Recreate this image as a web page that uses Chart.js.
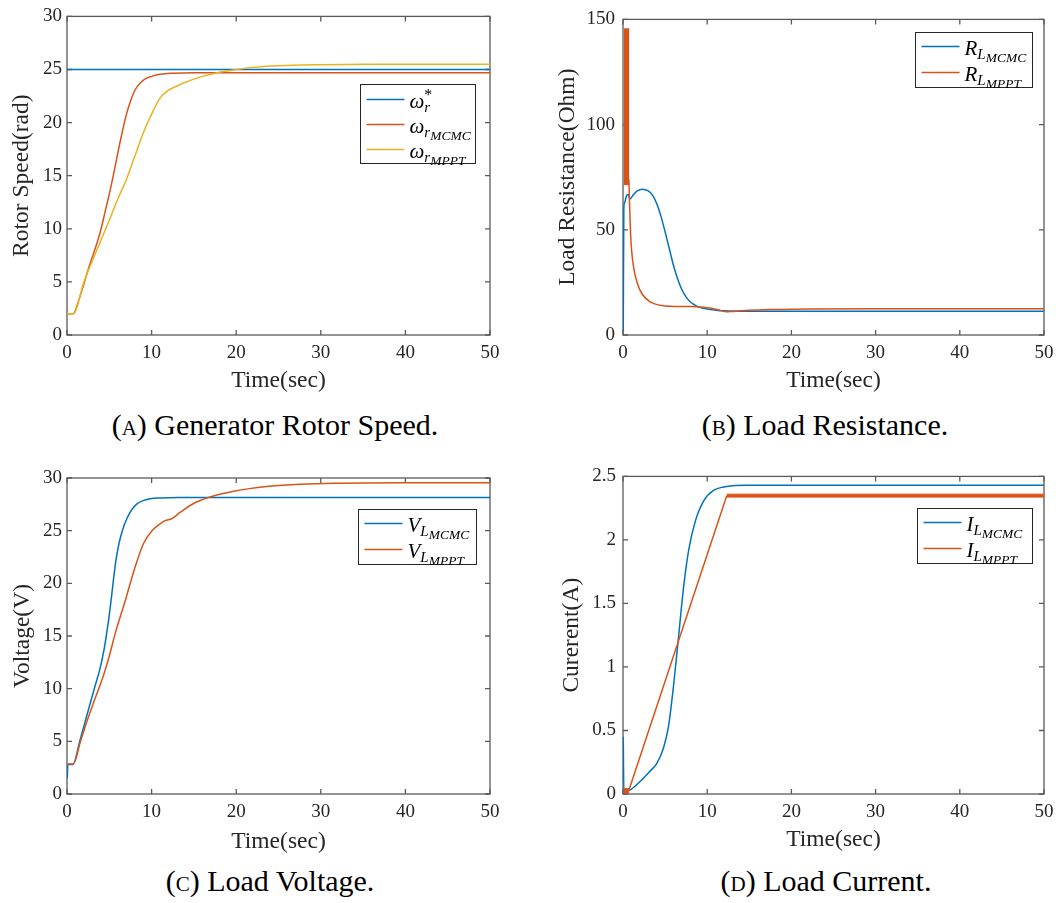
<!DOCTYPE html>
<html>
<head>
<meta charset="utf-8">
<script src="https://cdn.jsdelivr.net/npm/chart.js@4.4.1/dist/chart.umd.min.js"></script>
<style>
  body { margin: 0; background: #fff; }
  #page { position: relative; width: 1064px; height: 903px; }
  .panel { position: absolute; width: 532px; height: 400px; }
  .caption { position: absolute; width: 532px; text-align: center; font-family: "Liberation Serif", serif;
             font-size: 30px; line-height: 34px; color: #000; }
  .sc { font-variant: small-caps; }
</style>
</head>
<body>
<div id="page">
  <div class="panel" style="left:0;top:0"><canvas id="speedChart" width="532" height="400"></canvas></div>
  <div class="panel" style="left:532px;top:0"><canvas id="resistanceChart" width="532" height="400"></canvas></div>
  <div class="panel" style="left:0;top:458px"><canvas id="voltageChart" width="532" height="400"></canvas></div>
  <div class="panel" style="left:532px;top:458px"><canvas id="currentChart" width="532" height="400"></canvas></div>

  <div class="caption" style="left:9px;top:408px">(<span class="sc">a</span>) Generator Rotor Speed.</div>
  <div class="caption" style="left:559px;top:408px">(<span class="sc">b</span>) Load Resistance.</div>
  <div class="caption" style="left:4px;top:864px">(<span class="sc">c</span>) Load Voltage.</div>
  <div class="caption" style="left:560px;top:864px">(<span class="sc">d</span>) Load Current.</div>
</div>

<script>
// ---- tick values ----
const timeTicks = [0, 10, 20, 30, 40, 50];
const speedTicks = [0, 5, 10, 15, 20, 25, 30];
const resistanceTicks = [0, 50, 100, 150];
const voltageTicks = [0, 5, 10, 15, 20, 25, 30];
const currentTicks = [0, 0.5, 1, 1.5, 2, 2.5];

// ---- generator rotor speed (rad) ----
const speedRefT = [0, 50];
const speedRef = [25, 25];
const speedMcmcT = [0, 0.75, 1.4, 2.6, 3.9, 4.5, 5.2, 5.7, 6.1, 6.5, 7.0, 7.5, 8.0, 8.5, 9.2, 10, 11, 12.6, 15, 20, 50];
const speedMcmc = [2, 2, 3.3, 6.4, 9.6, 11.6, 14.0, 15.9, 17.5, 19.0, 20.7, 22.0, 23.0, 23.6, 24.1, 24.35, 24.55, 24.65, 24.7, 24.7, 24.7];
const speedMpptT = [0, 0.75, 2, 3, 4, 5, 6, 7, 8, 9, 10, 11, 12, 13, 14, 16, 18, 20, 22, 25, 30, 35, 40, 50];
const speedMppt = [2, 2, 5.0, 7.0, 8.9, 10.8, 12.8, 14.6, 16.8, 19.0, 20.8, 22.3, 23.05, 23.45, 23.8, 24.35, 24.75, 25.0, 25.2, 25.35, 25.45, 25.5, 25.5, 25.5];

// ---- load resistance (Ohm) ----
const resMcmcT = [0.03, 0.1, 0.2, 0.45, 0.65, 0.8, 1.2, 1.7, 2.3, 3.0, 3.5, 4.0, 4.5, 5.0, 5.5, 6.0, 6.5, 7.0, 7.5, 8.0, 8.5, 9.0, 10, 11, 12, 15, 50];
const resMcmc = [2, 60, 63, 66.5, 66.8, 64.5, 66.5, 68.5, 69.3, 68.5, 66.5, 62.5, 56.5, 49, 41, 33, 26.5, 21.5, 18, 15.7, 14.3, 13.3, 12.3, 11.8, 11.5, 11.3, 11.3];
// switching ripple of the MPPT controller during start-up (envelope)
const resRippleT = [0.08, 0.75];
const resRippleHigh = [145.5, 145.5];
const resRippleLow = [71.5, 71.5];
const resMpptT = [0.7, 0.78, 0.9, 1.05, 1.26, 1.66, 2.25, 3.24, 4.4, 6.0, 8.0, 9.5, 10.5, 11.3, 12.3, 13.0, 14.0, 16, 18, 22, 30, 50];
const resMppt = [74, 62, 48, 39, 32.1, 25.1, 19.6, 15.7, 14.1, 13.6, 13.5, 13.2, 12.7, 12.0, 11.0, 11.2, 11.5, 11.9, 12.1, 12.4, 12.5, 12.5];

// ---- load voltage (V) ----
const voltMcmcT = [0.03, 0.1, 0.7, 1.5, 2.5, 3.3, 3.9, 4.4, 4.75, 5.0, 5.3, 5.7, 6.0, 6.3, 6.8, 7.5, 8.2, 9.0, 10, 11, 13, 50];
const voltMcmc = [1.5, 2.8, 2.8, 5.0, 7.9, 10.2, 11.9, 13.8, 15.6, 17.0, 19.0, 21.7, 23.2, 24.3, 25.6, 26.8, 27.5, 27.85, 28.05, 28.1, 28.15, 28.15];
const voltMpptT = [0, 0.75, 1.6, 2.4, 3.1, 4.33, 5.0, 5.7, 6.9, 8.07, 9.06, 10.04, 11.0, 11.6, 12.4, 13.4, 15, 16.9, 19.7, 23.6, 27.6, 31.5, 40, 50];
const voltMppt = [2.85, 2.85, 5.0, 7.0, 8.6, 11.3, 13.1, 15.25, 18.4, 21.6, 23.8, 25.0, 25.65, 25.95, 26.15, 26.75, 27.6, 28.2, 28.75, 29.2, 29.4, 29.5, 29.55, 29.55];

// ---- load current (A) ----
const currMcmcT = [0.03, 0.1, 0.7, 0.9, 2.05, 3.2, 4.0, 4.8, 5.4, 6.0, 6.6, 7.2, 7.8, 8.6, 9.6, 10.75, 12.3, 14.7, 50];
const currMcmc = [0.45, 0.03, 0.03, 0.035, 0.1, 0.18, 0.24, 0.36, 0.53, 0.85, 1.24, 1.63, 1.92, 2.15, 2.31, 2.39, 2.42, 2.43, 2.43];
const currStartRippleT = [0.08, 0.75];
const currStartRippleHigh = [0.042, 0.042];
const currStartRippleLow = [0.008, 0.008];
const currMpptT = [0.7, 12.33];
const currMppt = [0.03, 2.35];
const currSteadyRippleT = [12.33, 50];
const currSteadyRippleHigh = [2.36, 2.36];
const currSteadyRippleLow = [2.337, 2.337];

const SERIF = '"Liberation Serif", serif';
const BLUE = '#0072BD', RED = '#D95319', GOLD = '#EDB120';
const AXIS_TEXT = '#262626';

function pairs(xs, ys) {
  return xs.map((x, i) => ({ x: x, y: ys[i] }));
}

function series(xs, ys, color, order) {
  return {
    data: pairs(xs, ys), borderColor: color, backgroundColor: color, borderWidth: 1.5,
    pointRadius: 0, cubicInterpolationMode: 'monotone', fill: false, order: order
  };
}

// two edges of a ripple envelope, filled between them
function ripple(xs, high, low, color, order) {
  return [
    { data: pairs(xs, high), borderColor: color, backgroundColor: color, borderWidth: 1, pointRadius: 0, fill: '+1', order: order },
    { data: pairs(xs, low), borderColor: color, backgroundColor: color, borderWidth: 1, pointRadius: 0, fill: false, order: order }
  ];
}

// axes box with inward ticks on all four sides
const matlabBox = {
  id: 'matlabBox',
  beforeDatasetsDraw(chart) {
    const { ctx, chartArea: a, scales } = chart;
    ctx.save();
    ctx.strokeStyle = '#5a5a5a';
    ctx.lineWidth = 1.3;
    ctx.strokeRect(a.left, a.top, a.width, a.height);
    ctx.beginPath();
    scales.x.ticks.forEach(t => {
      const px = scales.x.getPixelForValue(t.value);
      ctx.moveTo(px, a.bottom); ctx.lineTo(px, a.bottom - 5);
      ctx.moveTo(px, a.top); ctx.lineTo(px, a.top + 5);
    });
    scales.y.ticks.forEach(t => {
      const py = scales.y.getPixelForValue(t.value);
      ctx.moveTo(a.left, py); ctx.lineTo(a.left + 5, py);
      ctx.moveTo(a.right, py); ctx.lineTo(a.right - 5, py);
    });
    ctx.stroke();
    ctx.restore();
  }
};

// legend entries with sub/superscripts, e.g. R_{L_{MCMC}}
const MATH_SIZE = [21, 15, 13.5];
const MATH_SHIFT = [0, 4, 7];
function drawMath(ctx, parts, x, y) {
  ctx.fillStyle = '#000';
  ctx.textBaseline = 'alphabetic';
  ctx.textAlign = 'left';
  let subX = x;
  parts.forEach(([text, level]) => {
    if (level === 'sup') {
      ctx.font = '16px ' + SERIF;
      ctx.fillText(text, subX, y - 8);
      return;
    }
    ctx.font = 'italic ' + MATH_SIZE[level] + 'px ' + SERIF;
    if (level === 1) subX = x;
    ctx.fillText(text, x, y + MATH_SHIFT[level]);
    x += ctx.measureText(text).width;
  });
}

const legendSpecs = {};
const mathLegend = {
  id: 'mathLegend',
  afterDatasetsDraw(chart) {
    const spec = legendSpecs[chart.canvas.id];
    if (!spec) return;
    const { ctx, chartArea: a } = chart;
    const bx = Math.round(a.left + spec.x) + 0.5, by = Math.round(a.top + spec.y) + 0.5;
    ctx.save();
    ctx.fillStyle = '#fff';
    ctx.fillRect(bx, by, spec.w, spec.h);
    ctx.strokeStyle = '#262626';
    ctx.lineWidth = 1;
    ctx.strokeRect(bx, by, spec.w, spec.h);
    spec.rows.forEach((row, i) => {
      const ry = by + spec.first + i * spec.gap;
      ctx.strokeStyle = row.color;
      ctx.lineWidth = 1.5;
      ctx.beginPath();
      ctx.moveTo(bx + 6, ry);
      ctx.lineTo(bx + 44, ry);
      ctx.stroke();
      drawMath(ctx, row.parts, bx + 49, ry + 8);
    });
    ctx.restore();
  }
};

function makeChart(id, p) {
  legendSpecs[id] = p.legend;
  const tickFont = { family: SERIF, size: 19 };
  const titleFont = { family: SERIF, size: 23.5 };
  return new Chart(document.getElementById(id), {
    type: 'line',
    data: { datasets: p.datasets },
    options: {
      responsive: false,
      animation: false,
      layout: { padding: { top: p.top, right: p.right, left: 0, bottom: 0 } },
      plugins: { legend: { display: false }, tooltip: { enabled: false } },
      scales: {
        x: {
          type: 'linear', min: 0, max: 50,
          afterBuildTicks: s => { s.ticks = timeTicks.map(v => ({ value: v })); },
          afterFit: s => { s.height = p.xHeight; },
          grid: { display: false, drawTicks: false },
          border: { display: false },
          ticks: { font: tickFont, color: AXIS_TEXT, padding: 7, maxRotation: 0, autoSkip: false, callback: v => String(v) },
          title: { display: true, text: 'Time(sec)', font: titleFont, color: AXIS_TEXT, padding: { top: 0, bottom: p.xTitlePad } }
        },
        y: {
          type: 'linear', min: p.yTicks[0], max: p.yTicks[p.yTicks.length - 1],
          afterBuildTicks: s => { s.ticks = p.yTicks.map(v => ({ value: v })); },
          afterFit: s => { s.width = p.yWidth; },
          grid: { display: false, drawTicks: false },
          border: { display: false },
          ticks: { font: tickFont, color: AXIS_TEXT, padding: p.yTickPad, autoSkip: false, callback: v => String(v) },
          title: { display: true, text: p.yTitle, font: titleFont, color: AXIS_TEXT, padding: { top: p.yTitlePad, bottom: 0 } }
        }
      }
    },
    plugins: [matlabBox, mathLegend]
  });
}

makeChart('speedChart', {
  yTicks: speedTicks, yTitle: 'Rotor Speed(rad)',
  top: 16, right: 42, xHeight: 65, yWidth: 67, yTickPad: 5, yTitlePad: 8, xTitlePad: 5,
  datasets: [
    series(speedRefT, speedRef, BLUE, 3),
    series(speedMcmcT, speedMcmc, RED, 2),
    series(speedMpptT, speedMppt, GOLD, 1)
  ],
  legend: {
    x: 293, y: 68, w: 115, h: 79, first: 15, gap: 25,
    rows: [
      { color: BLUE, parts: [['ω', 0], ['r', 1], ['*', 'sup']] },
      { color: RED, parts: [['ω', 0], ['r', 1], ['MCMC', 2]] },
      { color: GOLD, parts: [['ω', 0], ['r', 1], ['MPPT', 2]] }
    ]
  }
});

makeChart('resistanceChart', {
  yTicks: resistanceTicks, yTitle: 'Load Resistance(Ohm)',
  top: 16, right: 20, xHeight: 65, yWidth: 91, yTickPad: 8, yTitlePad: 22, xTitlePad: 5,
  datasets: [
    series(resMcmcT, resMcmc, BLUE, 3),
    ...ripple(resRippleT, resRippleHigh, resRippleLow, RED, 2),
    series(resMpptT, resMppt, RED, 1)
  ],
  legend: {
    x: 292, y: 13, w: 117, h: 55, first: 14, gap: 26,
    rows: [
      { color: BLUE, parts: [['R', 0], ['L', 1], ['MCMC', 2]] },
      { color: RED, parts: [['R', 0], ['L', 1], ['MPPT', 2]] }
    ]
  }
});

makeChart('voltageChart', {
  yTicks: voltageTicks, yTitle: 'Voltage(V)',
  top: 20, right: 42, xHeight: 64, yWidth: 67, yTickPad: 5, yTitlePad: 9, xTitlePad: 2,
  datasets: [
    series(voltMcmcT, voltMcmc, BLUE, 2),
    series(voltMpptT, voltMppt, RED, 1)
  ],
  legend: {
    x: 291, y: 31, w: 118, h: 55, first: 14, gap: 26,
    rows: [
      { color: BLUE, parts: [['V', 0], ['L', 1], ['MCMC', 2]] },
      { color: RED, parts: [['V', 0], ['L', 1], ['MPPT', 2]] }
    ]
  }
});

makeChart('currentChart', {
  yTicks: currentTicks, yTitle: 'Curerent(A)',
  top: 18, right: 20, xHeight: 64, yWidth: 91, yTickPad: 7, yTitlePad: 26, xTitlePad: 4,
  datasets: [
    series(currMcmcT, currMcmc, BLUE, 3),
    ...ripple(currStartRippleT, currStartRippleHigh, currStartRippleLow, RED, 2),
    ...ripple(currSteadyRippleT, currSteadyRippleHigh, currSteadyRippleLow, RED, 2),
    series(currMpptT, currMppt, RED, 1)
  ],
  legend: {
    x: 294, y: 32, w: 115, h: 55, first: 14, gap: 26,
    rows: [
      { color: BLUE, parts: [['I', 0], ['L', 1], ['MCMC', 2]] },
      { color: RED, parts: [['I', 0], ['L', 1], ['MPPT', 2]] }
    ]
  }
});
</script>
</body>
</html>
